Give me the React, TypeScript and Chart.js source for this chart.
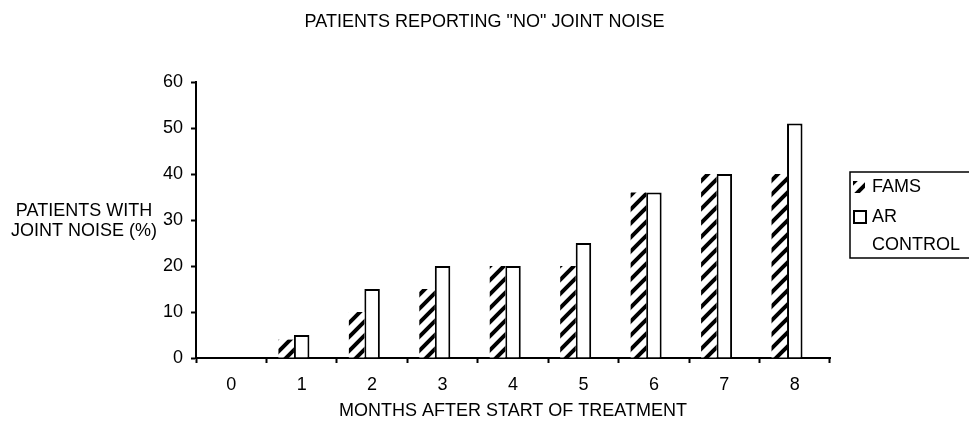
import React, { useEffect, useRef } from "react";
import { Chart, registerables } from "chart.js";

Chart.register(...registerables);

const TITLE = 'PATIENTS REPORTING "NO" JOINT NOISE';
const X_TITLE = "MONTHS AFTER START OF TREATMENT";
const Y_TITLE = ["PATIENTS WITH", "JOINT NOISE (%)"];

const MONTHS = ["0", "1", "2", "3", "4", "5", "6", "7", "8"];
const FAMS = [0, 4, 10, 15, 20, 20, 36, 40, 40];
const AR = [0, 5, 15, 20, 20, 25, 36, 40, 51];
const CONTROL = [0, 0, 0, 0, 0, 0, 0, 0, 0];
const SERIES_LABELS = ["FAMS", "AR", "CONTROL"];

const Y_MIN = 0;
const Y_MAX = 60;
const Y_STEP = 10;

const FONT = '"Liberation Sans", Arial, sans-serif';
const FONT_SIZE = 18;

function makeHatch(): CanvasPattern | string {
  const s = 14;
  const c = document.createElement("canvas");
  c.width = s;
  c.height = s;
  const g = c.getContext("2d");
  if (!g) return "#888";
  g.fillStyle = "#fff";
  g.fillRect(0, 0, s, s);
  g.strokeStyle = "#000";
  g.lineWidth = 4;
  g.beginPath();
  g.moveTo(-2, 2);
  g.lineTo(2, -2);
  g.moveTo(0, s);
  g.lineTo(s, 0);
  g.moveTo(s - 2, s + 2);
  g.lineTo(s + 2, s - 2);
  g.stroke();
  const p = g.createPattern(c, "repeat");
  return p || "#888";
}

export default function App() {
  const ref = useRef<HTMLCanvasElement | null>(null);

  useEffect(() => {
    document.body.style.margin = "0";
    const canvas = ref.current;
    if (!canvas) return;
    const hatch = makeHatch();

    const decor = {
      id: "decor",
      afterDraw(chart: any) {
        const ctx: CanvasRenderingContext2D = chart.ctx;
        const area = chart.chartArea;
        ctx.save();
        ctx.fillStyle = "#000";
        ctx.font = `${FONT_SIZE}px ${FONT}`;
        ctx.textAlign = "center";
        ctx.textBaseline = "middle";
        ctx.fillText(TITLE, chart.width / 2, 22);

        const cy = (area.top + area.bottom) / 2;
        ctx.fillText(Y_TITLE[0], 84, cy - 9);
        ctx.fillText(Y_TITLE[1], 84, cy + 11);

        // legend
        const lx = area.right + 20;
        const top = 172;
        const bottom = 258;
        ctx.strokeStyle = "#000";
        ctx.lineWidth = 1.5;
        ctx.beginPath();
        ctx.moveTo(chart.width + 5, top);
        ctx.lineTo(lx, top);
        ctx.lineTo(lx, bottom);
        ctx.lineTo(chart.width + 5, bottom);
        ctx.stroke();

        const rows = [187, 217, 245];
        ctx.textAlign = "left";
        SERIES_LABELS.forEach((label, i) => {
          const y = rows[i];
          if (i === 0) {
            ctx.fillStyle = hatch as any;
            ctx.fillRect(lx + 3, y - 6, 12, 12);
          } else if (i === 1) {
            ctx.lineWidth = 2;
            ctx.strokeRect(lx + 4, y - 6, 12, 12);
          }
          ctx.fillStyle = "#000";
          ctx.fillText(label, lx + 22, y);
        });
        ctx.restore();
      },
    };

    const chart = new Chart(canvas, {
      type: "bar",
      data: {
        labels: MONTHS,
        datasets: [
          {
            label: SERIES_LABELS[0],
            data: FAMS,
            backgroundColor: hatch as any,
            borderWidth: 0,
          },
          {
            label: SERIES_LABELS[1],
            data: AR,
            backgroundColor: "#fff",
            borderColor: "#000",
            borderWidth: 2,
            borderSkipped: "bottom",
          },
          {
            label: SERIES_LABELS[2],
            data: CONTROL,
            backgroundColor: "#fff",
            borderWidth: 0,
          },
        ],
      },
      options: {
        responsive: false,
        animation: false,
        layout: { padding: { top: 82, right: 139, bottom: 0, left: 0 } },
        datasets: {
          bar: { categoryPercentage: 0.66, barPercentage: 1.0 },
        },
        plugins: {
          legend: { display: false },
          tooltip: { enabled: false },
          title: { display: false },
        },
        scales: {
          x: {
            type: "category",
            grid: {
              display: true,
              drawOnChartArea: false,
              drawTicks: true,
              tickLength: 5,
              tickWidth: 2,
              tickColor: "#000",
              offset: true,
            },
            border: { display: true, color: "#000", width: 2 },
            ticks: {
              color: "#000",
              font: { family: FONT, size: FONT_SIZE },
              padding: 11,
              maxRotation: 0,
              autoSkip: false,
            },
            title: {
              display: true,
              text: X_TITLE,
              color: "#000",
              font: { family: FONT, size: FONT_SIZE },
              padding: { top: 0, bottom: -1 },
            },
            afterFit: (s: any) => {
              s.height = 63;
            },
          },
          y: {
            min: Y_MIN,
            max: Y_MAX,
            ticks: {
              stepSize: Y_STEP,
              color: "#000",
              font: { family: FONT, size: FONT_SIZE },
              padding: 8,
            },
            grid: {
              drawOnChartArea: false,
              drawTicks: true,
              tickLength: 5,
              tickWidth: 2,
              tickColor: "#000",
            },
            border: { display: true, color: "#000", width: 2 },
            afterFit: (s: any) => {
              s.width = 196;
            },
          },
        },
      },
      plugins: [decor],
    });

    return () => chart.destroy();
  }, []);

  return (
    <div style={{ width: 969, height: 421, background: "#fff" }}>
      <canvas ref={ref} width={969} height={421} style={{ display: "block" }} />
    </div>
  );
}
